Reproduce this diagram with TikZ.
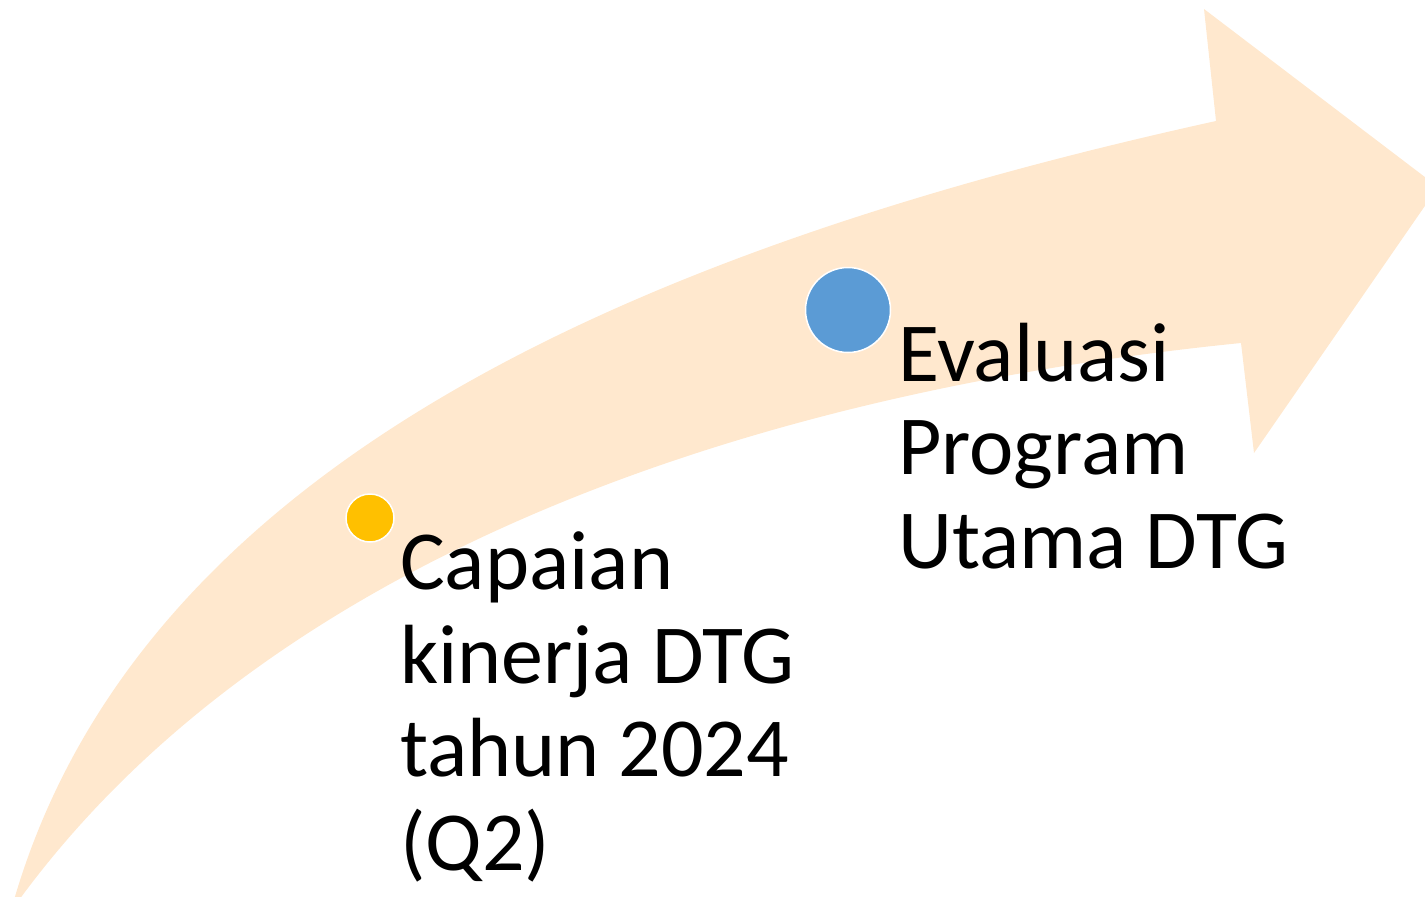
\documentclass[tikz,border=0pt]{standalone}
\usepackage{fontspec}
\setmainfont{Carlito}
\definecolor{arrowfill}{RGB}{255,232,206}
\definecolor{dotyellow}{RGB}{255,192,0}
\definecolor{dotblue}{RGB}{91,155,213}

\begin{document}
\begin{tikzpicture}[x=1pt, y=-1pt,
  dot/.style={circle, draw=white, line width=1.5pt, inner sep=0pt},
  steptext/.style={anchor=base west, align=left, inner sep=0pt,
    font=\fontsize{84}{93.5}\selectfont}]

\useasboundingbox (0,0) rectangle (1425,897);
\clip (0,0) rectangle (1425,897);

% Curved arrow: upper edge, head, lower edge
\fill [arrowfill]
  (14,900) .. controls (140,468) and (630,250) .. (1216,121)
  -- (1204,9) -- (1438,187) -- (1254,453) -- (1241,343)
  .. controls (743,393) and (268,560) .. (19,900)
  -- cycle;

% Milestone dots
\node [dot, fill=dotyellow, minimum size=48pt] (dotq) at (370,518) {};
\node [dot, fill=dotblue, minimum size=85pt] (doteval) at (848,310) {};

% Milestone texts (anchored at the last baseline)
\node [steptext] (capaian) at (400,870) {Capaian\\kinerja DTG\\tahun 2024\\(Q2)};
\node [steptext] (evaluasi) at (898,568) {Evaluasi\\Program\\Utama DTG};

\end{tikzpicture}
\end{document}
